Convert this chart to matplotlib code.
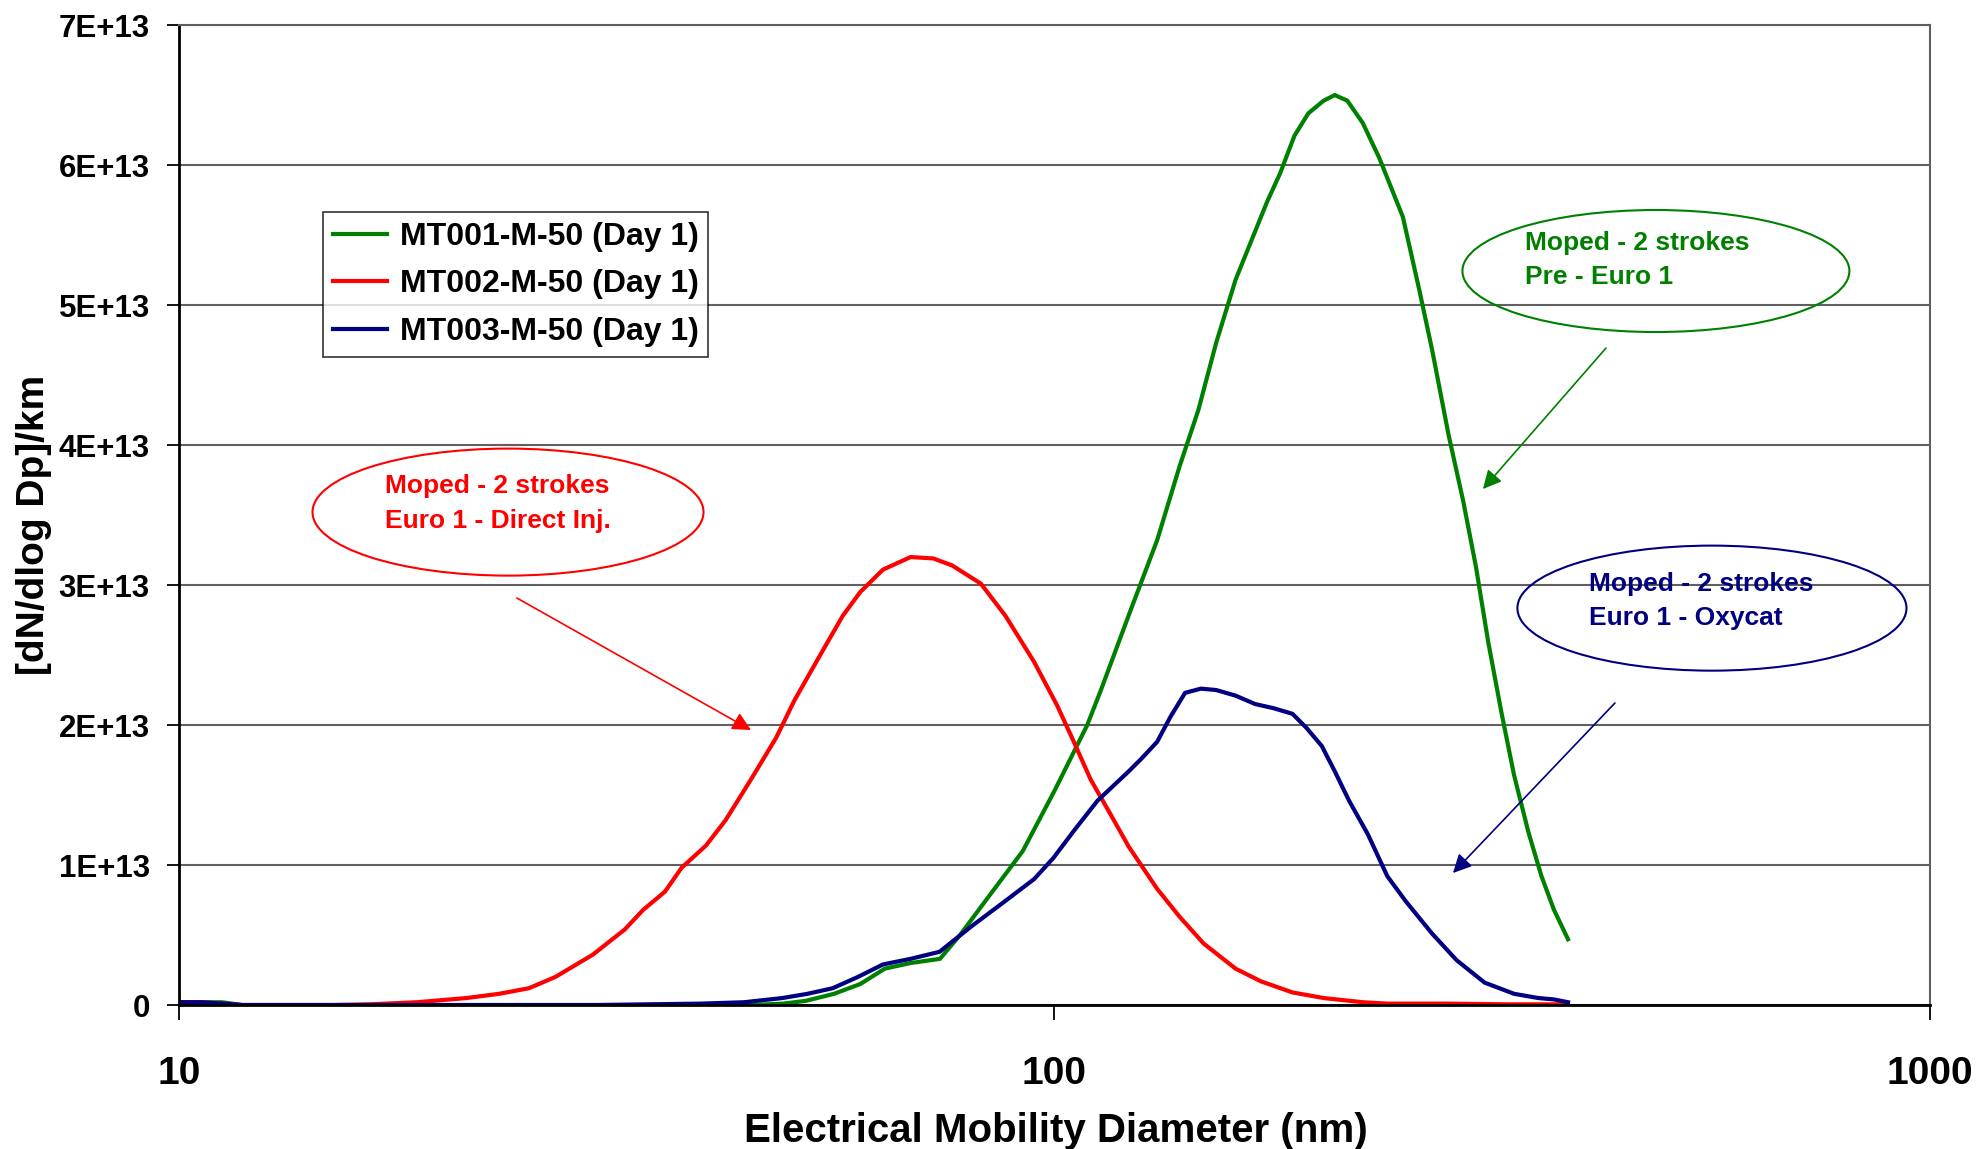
import matplotlib
matplotlib.use("Agg")
import matplotlib.pyplot as plt
from matplotlib.patches import Ellipse

plt.rcParams['font.family'] = ['Liberation Sans', 'DejaVu Sans']
plt.rcParams['font.weight'] = 'bold'

# diameters in nm, values in 1E+13 #/km
d_green = [10.1, 10.6, 11.2, 11.8, 15, 20, 30, 40, 45, 49, 52, 56, 60, 64, 68.5, 74, 78, 84, 92, 100,
           109, 113, 122, 131, 139, 146, 153, 161, 175, 181, 188, 195, 203, 209, 216, 225, 235,
           250, 261, 270, 282, 293, 303, 313, 324, 335, 348, 360, 372, 386]
y_green = [0.02, 0.02, 0.02, 0.0, 0.0, 0.0, 0.0, 0.0, 0.0, 0.01, 0.03, 0.08, 0.15, 0.26, 0.3, 0.33, 0.5, 0.77, 1.1, 1.53,
           2.0, 2.25, 2.81, 3.32, 3.85, 4.25, 4.73, 5.18, 5.74, 5.94, 6.21, 6.37, 6.46, 6.5, 6.46, 6.3, 6.05,
           5.63, 5.11, 4.68, 4.07, 3.6, 3.13, 2.59, 2.09, 1.64, 1.23, 0.92, 0.68, 0.47]

d_red = [10.1, 10.6, 11.2, 11.8, 15, 16.5, 18.7, 21.3, 23.2, 25.1, 26.9, 29.7, 32.3, 33.9, 35.9, 37.5, 40.0,
         42.1, 45.0, 48.1, 50.5, 54.0, 57.3, 60.0, 63.7, 68.5, 72.7, 76.4, 82.4, 87.9, 94.8, 100.7,
         104.7, 110, 115.7, 121.6, 131, 139, 148, 161, 172, 187, 203, 225, 240, 280, 330, 386]
y_red = [0.02, 0.02, 0.01, 0.0, 0.0, 0.005, 0.02, 0.05, 0.08, 0.12, 0.2, 0.36, 0.54, 0.68, 0.81, 0.98, 1.14,
         1.32, 1.61, 1.91, 2.18, 2.5, 2.78, 2.95, 3.11, 3.2, 3.19, 3.14, 3.01, 2.78, 2.45, 2.14,
         1.91, 1.61, 1.37, 1.13, 0.83, 0.63, 0.44, 0.26, 0.17, 0.09, 0.05, 0.02, 0.01, 0.01, 0.005, 0.005]

d_blue = [10.1, 10.6, 11.2, 11.8, 15, 20, 30, 39.4, 44.2, 48.9, 52.2, 55.8, 59.6, 63.7, 68.5, 73.9, 80.3,
          87.3, 94.8, 99.7, 105.4, 112, 121.6, 125.7, 131, 135.7, 141, 147, 153, 161, 169.5, 178,
          187, 194, 202, 209, 217, 228, 240, 252, 270, 288, 310, 335, 357, 372, 386]
y_blue = [0.02, 0.02, 0.01, 0.0, 0.0, 0.0, 0.0, 0.01, 0.02, 0.05, 0.08, 0.12, 0.2, 0.29, 0.33, 0.38, 0.56,
          0.73, 0.9, 1.05, 1.25, 1.46, 1.67, 1.76, 1.88, 2.06, 2.23, 2.26, 2.25, 2.21, 2.15, 2.12,
          2.08, 1.98, 1.85, 1.67, 1.46, 1.22, 0.92, 0.74, 0.51, 0.32, 0.16, 0.08, 0.05, 0.04, 0.02]

labels = ["MT001-M-50 (Day 1)", "MT002-M-50 (Day 1)", "MT003-M-50 (Day 1)"]
colors = ['#008000', '#FF0000', '#000080']

notes = ["Moped - 2 strokes\nPre - Euro 1",
         "Moped - 2 strokes\nEuro 1 - Direct Inj.",
         "Moped - 2 strokes\nEuro 1 - Oxycat"]

yticks = [0, 1e13, 2e13, 3e13, 4e13, 5e13, 6e13, 7e13]
ytick_labels = ["0", "1E+13", "2E+13", "3E+13", "4E+13", "5E+13", "6E+13", "7E+13"]

fig = plt.figure(figsize=(19.78, 11.49), dpi=100)
ax = fig.add_axes([0.0905, 0.1253, 0.8852, 0.8529])

series = [(d_green, y_green), (d_red, y_red), (d_blue, y_blue)]
for (d, v), lab, c in zip(series, labels, colors):
    ax.plot(d, [val * 1e13 for val in v], color=c, lw=3, label=lab)

ax.set_xscale('log')
ax.set_xlim(10, 1000)
ax.set_ylim(0, 7e13)
ax.set_xticks([10, 100, 1000])
ax.set_xticklabels(["10", "100", "1000"])
ax.xaxis.set_minor_locator(matplotlib.ticker.NullLocator())
ax.set_yticks(yticks)
ax.set_yticklabels(ytick_labels)
ax.yaxis.grid(True, color='#606060', lw=1.5)
ax.set_axisbelow(True)

ax.tick_params(axis='x', direction='out', length=11, width=1.3, pad=26, labelsize=28)
ax.tick_params(axis='y', direction='out', length=9, width=1.3, pad=12, labelsize=22.5)
for s in ['left', 'bottom']:
    ax.spines[s].set_linewidth(2)
    ax.spines[s].set_color('black')
for s in ['top', 'right']:
    ax.spines[s].set_linewidth(1.5)
    ax.spines[s].set_color('#606060')

ax.set_xlabel("Electrical Mobility Diameter (nm)", fontsize=29, fontweight='bold')
ax.set_ylabel("[dN/dlog Dp]/km", fontsize=28, fontweight='bold')
ax.xaxis.set_label_coords(0.501, -0.109)
ax.yaxis.set_label_coords(-0.0725, 0.49)

leg = ax.legend(loc='upper left', bbox_to_anchor=(0.0822, 0.809), borderaxespad=0,
                fontsize=23, frameon=True, fancybox=False, edgecolor='black',
                handlelength=1.7, handletextpad=0.4, labelspacing=0.55, borderpad=0.3)
leg.get_frame().set_linewidth(1.2)
for t in leg.get_texts():
    t.set_fontweight('bold')

# ellipses with notes
ell = [((0.8435, 0.749), 0.221, 0.1245), ((0.1879, 0.503), 0.2233, 0.1296), ((0.8755, 0.405), 0.2222, 0.1276)]
txt = [(0.7687, 0.760), (0.1176, 0.5117), (0.8053, 0.4122)]
arr = [((0.815, 0.6704), (0.7447, 0.5265)), ((0.193, 0.4153), (0.3267, 0.2806)), ((0.8201, 0.3082), (0.7276, 0.1347))]
for (c_xy, w, h), (tx, ty), (p0, p1), note, c in zip(ell, txt, arr, notes, colors):
    ax.add_patch(Ellipse(c_xy, w, h, transform=ax.transAxes, fill=False, edgecolor=c, lw=1.5))
    ax.text(tx, ty, note, transform=ax.transAxes, color=c, fontsize=19, fontweight='bold',
            ha='left', va='center', linespacing=1.55)
    ax.annotate("", xy=p1, xytext=p0, xycoords='axes fraction', textcoords='axes fraction',
                arrowprops=dict(arrowstyle='-|>', color=c, lw=1.2, mutation_scale=28,
                                shrinkA=0, shrinkB=0))

fig.savefig("out.png", dpi=100)
